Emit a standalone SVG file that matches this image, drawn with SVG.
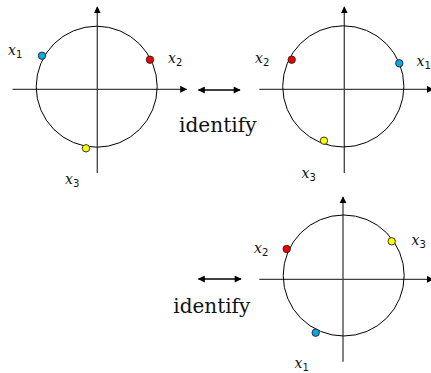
<svg xmlns="http://www.w3.org/2000/svg" width="431" height="373" viewBox="0 0 431 373">
<style>
.ax{stroke:#404040;stroke-width:1.3;fill:none}
.cir{stroke:#000;stroke-width:1;fill:none}
.dot{stroke:#222;stroke-width:0.9}
.b{fill:#0aa8e8}.r{fill:#f00000}.y{fill:#ffff00}
.lbl{font-family:"DejaVu Serif","Liberation Serif",serif;font-style:italic;font-size:14px;fill:#111}
.sub{font-family:"DejaVu Sans","Liberation Sans",sans-serif;font-style:normal;font-size:10px}
.id{font-family:"DejaVu Serif","Liberation Serif",serif;font-size:20px;fill:#111}
.dbl{stroke:#000;stroke-width:1.6;fill:none}
</style>
<defs>
<marker id="ah" viewBox="0 0 10 10" refX="9" refY="5" markerWidth="7" markerHeight="7" markerUnits="userSpaceOnUse" orient="auto"><path d="M0,0L10,5L0,10z" fill="#000"/></marker>
<marker id="dh" viewBox="0 0 10 10" refX="9" refY="5" markerWidth="8" markerHeight="7" markerUnits="userSpaceOnUse" orient="auto-start-reverse"><path d="M0,0L10,5L0,10z" fill="#000"/></marker>
</defs>
<g id="panel1">
<line class="ax" x1="12.5" y1="89.3" x2="186.5" y2="89.3" marker-end="url(#ah)"/>
<line class="ax" x1="97.3" y1="173" x2="97.3" y2="7" marker-end="url(#ah)"/>
<circle class="cir" cx="96.7" cy="86.7" r="60.5"/>
<circle class="dot b" cx="42" cy="55.7" r="3.7"/>
<circle class="dot r" cx="150" cy="59.7" r="3.7"/>
<circle class="dot y" cx="86" cy="148.3" r="3.7"/>
<text class="lbl" x="8" y="55">x<tspan class="sub" dy="2.5">1</tspan></text>
<text class="lbl" x="168" y="63">x<tspan class="sub" dy="2.5">2</tspan></text>
<text class="lbl" x="65" y="184">x<tspan class="sub" dy="2.5">3</tspan></text>
</g>
<g id="panel2">
<line class="ax" x1="259.3" y1="89.3" x2="433" y2="89.3" marker-end="url(#ah)"/>
<line class="ax" x1="344.3" y1="173" x2="344.3" y2="7" marker-end="url(#ah)"/>
<circle class="cir" cx="343.3" cy="86.4" r="60.6"/>
<circle class="dot r" cx="291.7" cy="59.7" r="3.7"/>
<circle class="dot b" cx="399.3" cy="63.3" r="3.7"/>
<circle class="dot y" cx="324" cy="140.7" r="3.7"/>
<text class="lbl" x="255" y="63">x<tspan class="sub" dy="2.5">2</tspan></text>
<text class="lbl" x="416.5" y="66">x<tspan class="sub" dy="2.5">1</tspan></text>
<text class="lbl" x="301.5" y="178">x<tspan class="sub" dy="2.5">3</tspan></text>
</g>
<g id="panel3">
<line class="ax" x1="259.3" y1="279.3" x2="433" y2="279.3" marker-end="url(#ah)"/>
<line class="ax" x1="343" y1="361.7" x2="343" y2="197" marker-end="url(#ah)"/>
<circle class="cir" cx="343.7" cy="275.5" r="60.5"/>
<circle class="dot r" cx="286.7" cy="249" r="3.7"/>
<circle class="dot y" cx="391.7" cy="241.3" r="3.7"/>
<circle class="dot b" cx="315.7" cy="332.7" r="3.7"/>
<text class="lbl" x="254" y="253">x<tspan class="sub" dy="2.5">2</tspan></text>
<text class="lbl" x="411.5" y="245">x<tspan class="sub" dy="2.5">3</tspan></text>
<text class="lbl" x="294.5" y="368">x<tspan class="sub" dy="2.5">1</tspan></text>
</g>
<g id="connectors">
<line class="dbl" x1="198.5" y1="90" x2="240" y2="90" marker-start="url(#dh)" marker-end="url(#dh)"/>
<line class="dbl" x1="198.5" y1="279" x2="241" y2="279" marker-start="url(#dh)" marker-end="url(#dh)"/>
</g>
<g id="labels">
<text class="id" x="179" y="132.3" textLength="77.5" lengthAdjust="spacingAndGlyphs">identify</text>
<text class="id" x="173.3" y="313.3" textLength="77" lengthAdjust="spacingAndGlyphs">identify</text>
</g>
</svg>
